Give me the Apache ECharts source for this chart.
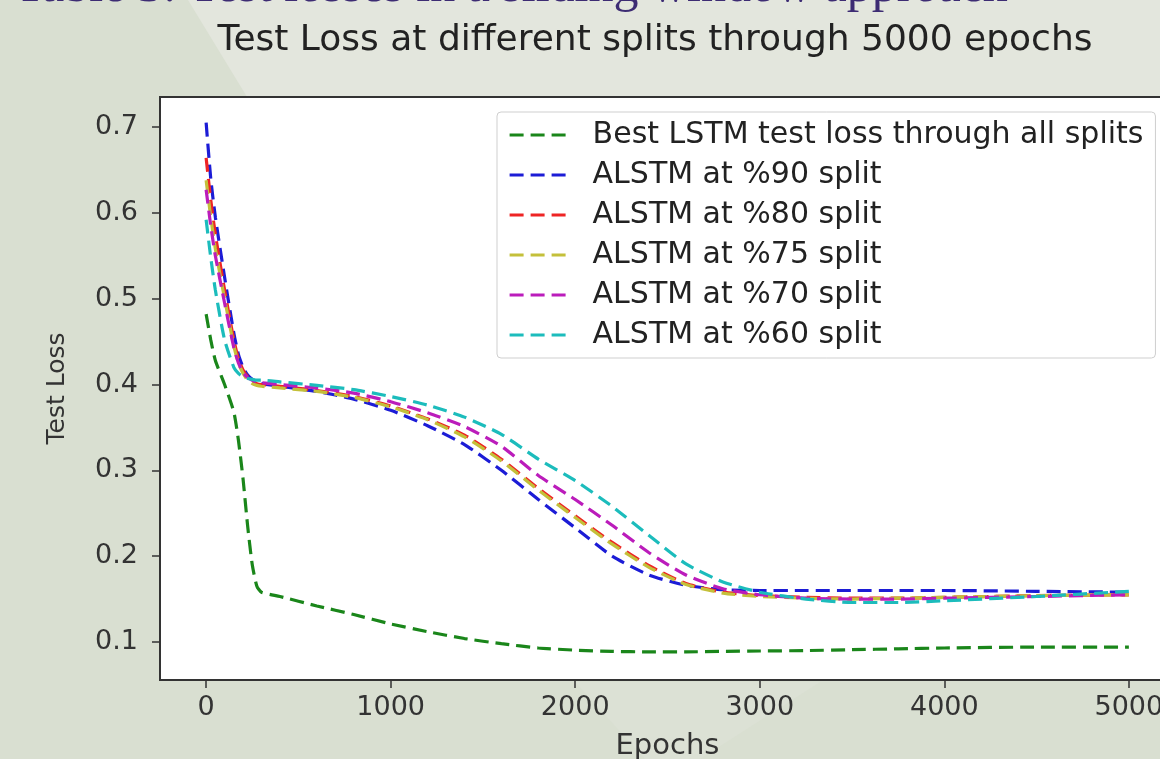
<!DOCTYPE html>
<html>
<head>
<meta charset="utf-8">
<script src="https://cdn.jsdelivr.net/npm/echarts@6/dist/echarts.min.js"></script>
<style>
  html, body { margin: 0; padding: 0; background: #d9dfd1; }
  #chart { width: 1160px; height: 759px; }
</style>
</head>
<body>
<div id="chart"></div>
<script>
  // epochs sampled along the x axis
  var epochs = [0, 25, 50, 100, 150, 175, 200, 225, 250, 275, 300, 400, 600, 800, 1000, 1200, 1400, 1600, 1800, 2000, 2200, 2400, 2600, 2800, 3000, 3250, 3500, 3750, 4000, 4500, 5000]

  var bestLstm = [0.482, 0.452, 0.428, 0.400, 0.368, 0.335, 0.290, 0.235, 0.190, 0.165, 0.158, 0.153, 0.142, 0.132, 0.121, 0.112, 0.104, 0.098, 0.093, 0.0905, 0.089, 0.0885, 0.0885, 0.089, 0.0895, 0.090, 0.091, 0.092, 0.093, 0.094, 0.094]
  var alstm90 = [0.705, 0.640, 0.595, 0.525, 0.460, 0.435, 0.420, 0.411, 0.406, 0.403, 0.401, 0.398, 0.392, 0.383, 0.370, 0.352, 0.330, 0.300, 0.266, 0.233, 0.200, 0.178, 0.166, 0.161, 0.160, 0.160, 0.160, 0.160, 0.160, 0.159, 0.158]
  var alstm80 = [0.664, 0.615, 0.575, 0.510, 0.452, 0.430, 0.417, 0.409, 0.404, 0.401, 0.400, 0.398, 0.393, 0.386, 0.375, 0.360, 0.341, 0.313, 0.279, 0.247, 0.216, 0.189, 0.168, 0.158, 0.154, 0.152, 0.151, 0.151, 0.152, 0.154, 0.155]
  var alstm75 = [0.638, 0.595, 0.558, 0.500, 0.445, 0.425, 0.413, 0.405, 0.401, 0.399, 0.398, 0.396, 0.392, 0.385, 0.374, 0.359, 0.339, 0.311, 0.277, 0.245, 0.214, 0.187, 0.167, 0.157, 0.153, 0.151, 0.150, 0.151, 0.152, 0.154, 0.155]
  var alstm70 = [0.627, 0.585, 0.550, 0.495, 0.443, 0.425, 0.414, 0.408, 0.405, 0.403, 0.402, 0.400, 0.396, 0.390, 0.380, 0.367, 0.351, 0.328, 0.294, 0.266, 0.236, 0.204, 0.178, 0.162, 0.155, 0.151, 0.150, 0.150, 0.151, 0.153, 0.155]
  var alstm60 = [0.592, 0.548, 0.510, 0.452, 0.420, 0.413, 0.409, 0.407, 0.406, 0.405, 0.405, 0.403, 0.399, 0.394, 0.386, 0.376, 0.362, 0.342, 0.313, 0.288, 0.258, 0.224, 0.191, 0.170, 0.158, 0.150, 0.146, 0.146, 0.148, 0.153, 0.159]

  var seriesNames = ['Best LSTM test loss through all splits', 'ALSTM at %90 split', 'ALSTM at %80 split', 'ALSTM at %75 split', 'ALSTM at %70 split', 'ALSTM at %60 split']
  var seriesValues = [bestLstm, alstm90, alstm80, alstm75, alstm70, alstm60]
  var lineColors = ['#1a861a', '#1c1cd6', '#ee2424', '#c4c03a', '#bb1cbb', '#1cbcbc']

  var xTicks = [0, 1000, 2000, 3000, 4000, 5000]
  var yTicks = [0.1, 0.2, 0.3, 0.4, 0.5, 0.6, 0.7]

  var font = 'DejaVu Sans'
  var myChart = echarts.init(document.getElementById('chart'))

  var series = []
  for (var i = 0; i < seriesNames.length; i++) {
    series.push({
      name: seriesNames[i],
      type: 'line',
      symbol: 'none',
      smooth: 0.2,
      animation: false,
      lineStyle: {
        color: lineColors[i],
        width: 3.2,
        type: [14, 7]
      },
      itemStyle: {
        color: lineColors[i]
      },
      data: epochs.map(function (e, k) { return [e, seriesValues[i][k]] })
    })
  }

  var option = {
    backgroundColor: '#d9dfd1',
    animation: false,
    graphic: [
      { // lighter slide panel behind the plot
        type: 'polygon',
        z: -10,
        shape: { points: [[188, 0], [1160, 0], [1160, 110], [255, 110]] },
        style: { fill: '#e3e6dd' }
      },
      {
        type: 'polygon',
        z: -10,
        shape: { points: [[575, 682], [820, 682], [700, 759], [645, 759]] },
        style: { fill: '#dce1d5' }
      },
      { // caption cut off at the top of the slide
        type: 'text',
        x: 15,
        y: 13,
        z: 10,
        style: {
          text: 'Table 3: Test losses in a sliding window approach',
          font: '50px "Liberation Serif"',
          fill: '#3d2c73',
          verticalAlign: 'bottom'
        }
      }
    ],
    title: {
      text: 'Test Loss at different splits through 5000 epochs',
      left: 650,
      top: 18,
      textAlign: 'center',
      textStyle: {
        fontFamily: font,
        fontSize: 36,
        fontWeight: 'normal',
        color: '#222'
      }
    },
    legend: {
      orient: 'vertical',
      left: 497,
      top: 112,
      padding: [8, 12, 8, 11],
      itemWidth: 60,
      itemHeight: 20,
      itemGap: 10,
      backgroundColor: '#fff',
      borderColor: '#cfcfcf',
      borderWidth: 1,
      borderRadius: 4,
      selectedMode: false,
      itemStyle: { opacity: 0 },
      lineStyle: { width: 3.2, type: [14, 7] },
      textStyle: {
        fontFamily: font,
        fontSize: 30,
        color: '#222',
        padding: [0, 0, 0, 18]
      },
      data: seriesNames
    },
    grid: {
      left: 160,
      top: 97,
      width: 1015,
      height: 583,
      outerBoundsMode: 'none',
      containLabel: false,
      show: true,
      backgroundColor: '#fff',
      borderColor: '#333',
      borderWidth: 2
    },
    xAxis: {
      type: 'value',
      min: -250,
      max: 5250,
      name: 'Epochs',
      nameLocation: 'middle',
      nameGap: 52,
      nameTextStyle: { fontFamily: font, fontSize: 29, color: '#333' },
      axisLine: { show: false, onZero: false },
      axisTick: {
        show: true,
        length: 8,
        customValues: xTicks,
        lineStyle: { color: '#333', width: 1.5 }
      },
      axisLabel: {
        customValues: xTicks,
        margin: 14,
        fontFamily: font,
        fontSize: 27,
        color: '#333',
        formatter: function (v) { return String(v) }
      },
      splitLine: { show: false }
    },
    yAxis: {
      type: 'value',
      min: 0.0557,
      max: 0.735,
      name: 'Test Loss',
      nameLocation: 'middle',
      nameGap: 90,
      nameTextStyle: { fontFamily: font, fontSize: 25, color: '#333' },
      axisLine: { show: false, onZero: false },
      axisTick: {
        show: true,
        length: 8,
        customValues: yTicks,
        lineStyle: { color: '#333', width: 1.5 }
      },
      axisLabel: {
        customValues: yTicks,
        margin: 22,
        fontFamily: font,
        fontSize: 27,
        color: '#333',
        formatter: function (v) { return v.toFixed(1) }
      },
      splitLine: { show: false }
    },
    series: series
  }

  myChart.setOption(option)
</script>
</body>
</html>
